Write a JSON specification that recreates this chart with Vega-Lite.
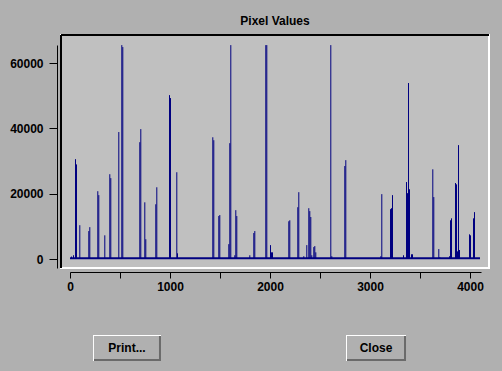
{
  "$schema": "https://vega.github.io/schema/vega-lite/v6.json",
  "background": "#b0b0b0",
  "padding": {"left": 8, "top": 13, "right": 15, "bottom": 12},
  "spacing": 42,
  "config": {
    "view": {"stroke": null},
    "font": "Liberation Sans",
    "axis": {
      "domainColor": "#000000", "tickColor": "#000000", "labelColor": "#000000",
      "labelFont": "Liberation Sans", "labelFontSize": 12, "labelFontWeight": "bold",
      "grid": false, "title": null, "labelFlush": false, "labelOverlap": false,
      "domainWidth": 1, "tickWidth": 1
    }
  },
  "datasets": {
    "spikes": [
      {"x": 15, "value": 800}, {"x": 35, "value": 1200}, {"x": 55, "value": 30600}, {"x": 65, "value": 29000},
      {"x": 98, "value": 10400}, {"x": 188, "value": 8600}, {"x": 198, "value": 9800}, {"x": 278, "value": 20800},
      {"x": 288, "value": 19600}, {"x": 348, "value": 7300}, {"x": 398, "value": 26000}, {"x": 408, "value": 24800},
      {"x": 488, "value": 38900}, {"x": 518, "value": 65500}, {"x": 528, "value": 64900}, {"x": 698, "value": 35800},
      {"x": 708, "value": 39800}, {"x": 748, "value": 17400}, {"x": 758, "value": 6100}, {"x": 858, "value": 16800},
      {"x": 868, "value": 22000}, {"x": 995, "value": 50200}, {"x": 1005, "value": 49300}, {"x": 1068, "value": 26600},
      {"x": 1075, "value": 1800}, {"x": 1428, "value": 37300}, {"x": 1438, "value": 36400}, {"x": 1488, "value": 13200},
      {"x": 1498, "value": 13500}, {"x": 1588, "value": 4600}, {"x": 1598, "value": 35500}, {"x": 1608, "value": 65500},
      {"x": 1648, "value": 1200}, {"x": 1658, "value": 15000}, {"x": 1668, "value": 13200}, {"x": 1798, "value": 1200},
      {"x": 1838, "value": 8000}, {"x": 1848, "value": 8600}, {"x": 1958, "value": 65500}, {"x": 1968, "value": 65500},
      {"x": 2005, "value": 4300}, {"x": 2015, "value": 2100}, {"x": 2025, "value": 2100}, {"x": 2188, "value": 11600},
      {"x": 2198, "value": 11900}, {"x": 2278, "value": 15900}, {"x": 2288, "value": 20500}, {"x": 2338, "value": 900},
      {"x": 2368, "value": 4300}, {"x": 2388, "value": 15600}, {"x": 2398, "value": 14700}, {"x": 2408, "value": 12900},
      {"x": 2418, "value": 1200}, {"x": 2438, "value": 3700}, {"x": 2448, "value": 4000}, {"x": 2458, "value": 2100},
      {"x": 2608, "value": 65500}, {"x": 2618, "value": 900}, {"x": 2748, "value": 28500}, {"x": 2758, "value": 30300},
      {"x": 3108, "value": 900}, {"x": 3118, "value": 19900}, {"x": 3205, "value": 15300}, {"x": 3215, "value": 15600},
      {"x": 3225, "value": 19600}, {"x": 3335, "value": 1200}, {"x": 3365, "value": 23600}, {"x": 3375, "value": 20200},
      {"x": 3385, "value": 53900}, {"x": 3395, "value": 21400}, {"x": 3415, "value": 1500}, {"x": 3425, "value": 1500},
      {"x": 3628, "value": 27500}, {"x": 3638, "value": 19000}, {"x": 3688, "value": 3100}, {"x": 3698, "value": 600},
      {"x": 3795, "value": 900}, {"x": 3805, "value": 11900}, {"x": 3815, "value": 12500}, {"x": 3855, "value": 23300},
      {"x": 3865, "value": 22900}, {"x": 3875, "value": 2400}, {"x": 3885, "value": 34900}, {"x": 3895, "value": 2800},
      {"x": 3995, "value": 7600}, {"x": 4005, "value": 7300}, {"x": 4035, "value": 12500}, {"x": 4045, "value": 14400}
    ],
    "buttons": [{"label": "Print..."}, {"label": "Close"}]
  },
  "vconcat": [
    {
      "width": 428,
      "height": 233,
      "title": {"text": "Pixel Values", "font": "Liberation Sans", "fontSize": 12, "fontWeight": "bold", "color": "#000000", "offset": 6, "anchor": "middle"},
      "view": {"fill": "#c0c0c0", "stroke": "#ffffff", "strokeWidth": 2},
      "layer": [
        {
          "data": {"values": [{}]},
          "mark": {"type": "rule", "color": "#000000", "strokeWidth": 2},
          "encoding": {"y": {"datum": 68600, "type": "quantitative"}}
        },
        {
          "data": {"values": [{}]},
          "mark": {"type": "rule", "color": "#000000", "strokeWidth": 2},
          "encoding": {"x": {"datum": -90, "type": "quantitative"}}
        },
        {
          "data": {"values": [{}]},
          "mark": {"type": "rule", "color": "#000080", "strokeWidth": 2},
          "encoding": {
            "x": {"datum": 0, "type": "quantitative"},
            "x2": {"datum": 4100},
            "y": {"datum": 300, "type": "quantitative"}
          }
        },
        {
          "data": {"name": "spikes"},
          "mark": {"type": "rule", "color": "#000080", "strokeWidth": 1},
          "encoding": {
            "x": {
              "field": "x", "type": "quantitative",
              "scale": {"domain": [0, 4110], "range": [9, 420], "nice": false, "zero": false},
              "axis": {
                "values": [0, 500, 1000, 1500, 2000, 2500, 3000, 3500, 4000],
                "labelExpr": "datum.value % 1000 === 0 ? datum.label : ''",
                "format": "d", "offset": 4, "tickSize": 6, "labelPadding": 3
              }
            },
            "y": {
              "field": "value", "type": "quantitative",
              "scale": {"domain": [-2700, 65535], "range": [233, 10], "nice": false, "zero": false},
              "axis": {
                "values": [0, 10000, 20000, 30000, 40000, 50000, 60000],
                "labelExpr": "datum.value % 20000 === 0 ? datum.label : ''",
                "format": "d", "offset": 4, "tickSize": 8, "labelPadding": 6
              }
            },
            "y2": {"datum": 300}
          }
        }
      ]
    },
    {
      "width": 381,
      "height": 26,
      "data": {"name": "buttons"},
      "encoding": {
        "x": {"field": "label", "type": "nominal", "sort": null, "axis": null,
              "scale": {"domain": ["Print...", "Close"], "paddingInner": 0.5, "paddingOuter": 0.015}},
        "y": {"datum": "b", "type": "nominal", "axis": null, "scale": {"paddingInner": 0, "paddingOuter": 0}}
      },
      "layer": [
        {"transform": [{"filter": "datum.label === 'Print...'"}], "mark": {"type": "rect", "color": "#ffffff", "width": 68, "height": 26}},
        {"transform": [{"filter": "datum.label === 'Print...'"}], "mark": {"type": "rect", "color": "#6a6a6a", "width": 67, "height": 25, "xOffset": 0.5, "yOffset": 0.5}},
        {"transform": [{"filter": "datum.label === 'Print...'"}], "mark": {"type": "rect", "color": "#b0b0b0", "width": 65, "height": 23, "xOffset": -0.5, "yOffset": -0.5}},
        {"transform": [{"filter": "datum.label === 'Close'"}], "mark": {"type": "rect", "color": "#ffffff", "width": 60, "height": 26}},
        {"transform": [{"filter": "datum.label === 'Close'"}], "mark": {"type": "rect", "color": "#6a6a6a", "width": 59, "height": 25, "xOffset": 0.5, "yOffset": 0.5}},
        {"transform": [{"filter": "datum.label === 'Close'"}], "mark": {"type": "rect", "color": "#b0b0b0", "width": 57, "height": 23, "xOffset": -0.5, "yOffset": -0.5}},
        {"mark": {"type": "text", "font": "Liberation Sans", "fontSize": 12, "fontWeight": "bold", "color": "#000000"},
         "encoding": {"text": {"field": "label"}}}
      ]
    }
  ]
}
